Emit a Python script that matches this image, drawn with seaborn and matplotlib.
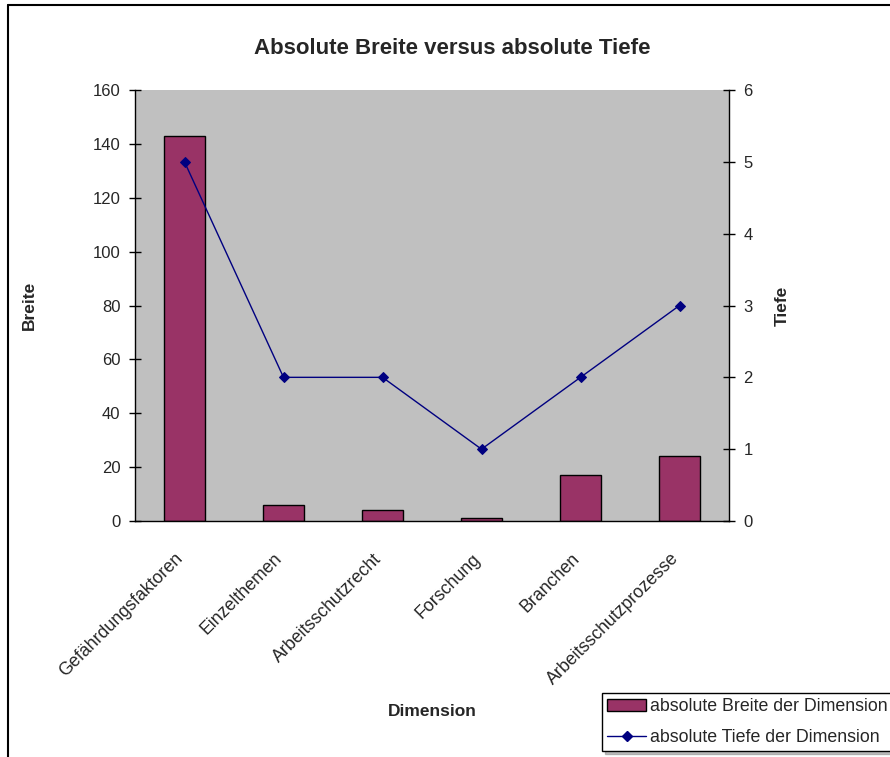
import numpy as np
import seaborn as sns
import matplotlib.pyplot as plt
from matplotlib.lines import Line2D
from matplotlib.transforms import ScaledTranslation

# Data
dimensionen = ['Gefährdungsfaktoren', 'Einzelthemen', 'Arbeitsschutzrecht',
               'Forschung', 'Branchen', 'Arbeitsschutzprozesse']
breite = [143, 6, 4, 1, 17, 24]
tiefe = [5, 2, 2, 1, 2, 3]

sns.set_style('white')
plt.rcParams['font.family'] = ['Liberation Sans', 'DejaVu Sans']

fig = plt.figure(figsize=(8.9, 7.57), dpi=100)
ax = fig.add_axes([135 / 890, 1 - 521 / 757, 594 / 890, 431 / 757])
ax.set_facecolor('#C0C0C0')

# Bars (left axis)
sns.barplot(x=dimensionen, y=breite, color='#993366', edgecolor='black',
            linewidth=1, width=0.41, saturation=1, ax=ax)
ax.set_xlim(-0.5, 5.5)
ax.set_ylim(0, 160)
ax.set_yticks(range(0, 161, 20))

# Line (right axis)
ax2 = ax.twinx()
sns.lineplot(x=np.arange(len(tiefe)), y=tiefe, color='#000080', marker='D',
             markersize=5.5, markeredgecolor='#000080', linewidth=1, ax=ax2)
ax2.set_ylim(0, 6)
ax2.set_yticks(range(0, 7))

# Spines / ticks Excel style
for a in (ax, ax2):
    a.spines['top'].set_visible(False)
    for s in ('left', 'right', 'bottom'):
        a.spines[s].set_color('black')
        a.spines[s].set_linewidth(1)
ax.spines['right'].set_visible(False)
ax2.spines['left'].set_visible(False)
ax2.spines['bottom'].set_visible(False)

ax.set_xticks(np.arange(-0.5, 6, 1), minor=True)
ax.tick_params(axis='x', which='major', length=0, labelsize=12.8, pad=21)
ax.tick_params(axis='x', which='minor', direction='inout', length=9, width=1, color='black')
ax.tick_params(axis='y', direction='inout', length=9, width=1, color='black', labelsize=12, left=True, pad=6)
ax2.tick_params(axis='y', direction='inout', length=9, width=1, color='black', labelsize=12, right=True, pad=6)
shift = ScaledTranslation(-7 / 72, 0, fig.dpi_scale_trans)
for lbl in ax.get_xticklabels():
    lbl.set_rotation(45)
    lbl.set_ha('right')
    lbl.set_va('top')
    lbl.set_rotation_mode('anchor')
    lbl.set_transform(lbl.get_transform() + shift)

ax.set_xlabel('Dimension', fontsize=12.5, fontweight='bold')
ax.xaxis.set_label_coords(0.5, -0.424)
ax.set_ylabel('Breite', fontsize=12.5, fontweight='bold')
ax.yaxis.set_label_coords(-0.165, 0.5)
ax2.set_ylabel('Tiefe', fontsize=12.5, fontweight='bold', rotation=90)
ax2.yaxis.set_label_coords(1.077, 0.5)

fig.text(452 / 890, 1 - 48 / 757, 'Absolute Breite versus absolute Tiefe',
         ha='center', va='center', fontsize=16, fontweight='bold')

# Legend
handles = [plt.Rectangle((0, 0), 1, 1, facecolor='#993366', edgecolor='black'),
           Line2D([], [], color='#000080', marker='D', markersize=5.5, linewidth=1)]
fig.legend(handles, ['absolute Breite der Dimension', 'absolute Tiefe der Dimension'],
           loc='lower left', bbox_to_anchor=(602 / 890, 1 - 751 / 757),
           fontsize=12.8, frameon=True, fancybox=False, edgecolor='black',
           framealpha=1, shadow={'color': '#808080'}, handlelength=2.2,
           handleheight=0.6, borderpad=0.3, labelspacing=0.75,
           handletextpad=0.2, borderaxespad=0)

# Chart area border (left and top visible)
fig.add_artist(Line2D([8 / 890, 8 / 890], [0, 1 - 5 / 757], color='black', linewidth=1.5))
fig.add_artist(Line2D([8 / 890, 1], [1 - 5 / 757, 1 - 5 / 757], color='black', linewidth=1.5))

fig.savefig('out.png', dpi=100)
